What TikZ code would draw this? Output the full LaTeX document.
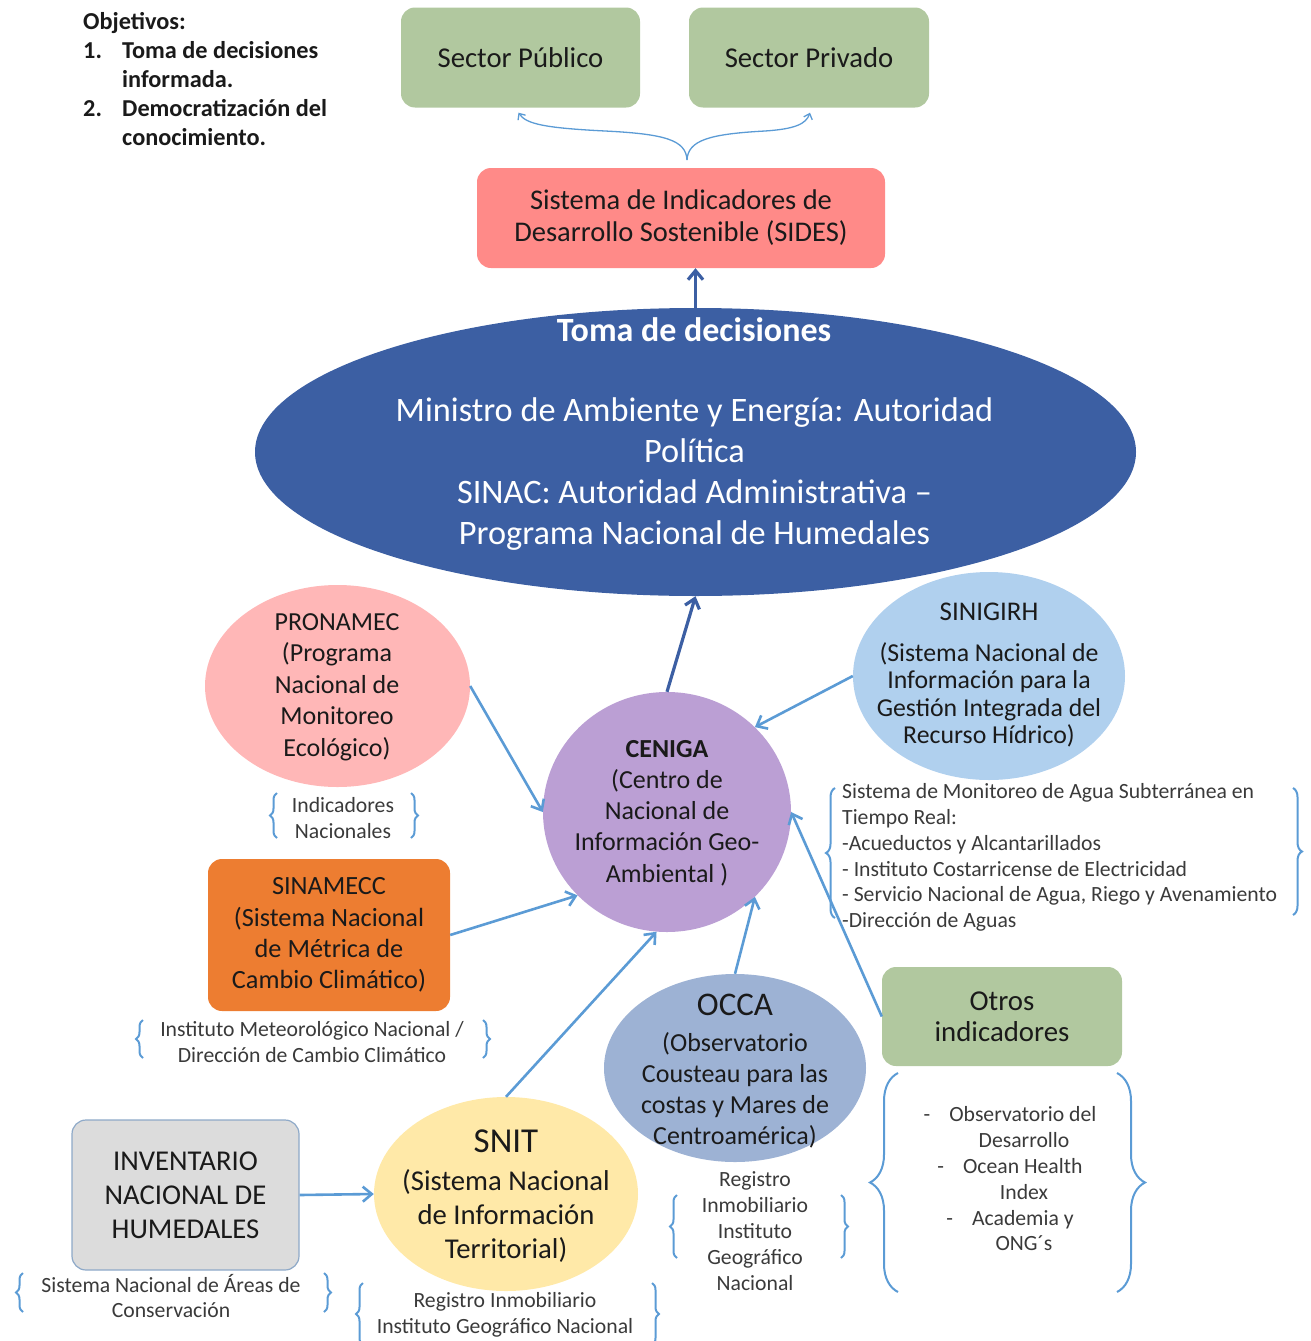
\documentclass[tikz,border=0pt]{standalone}
\usepackage{fontspec}
\setmainfont{Carlito}
\usetikzlibrary{arrows.meta,decorations.pathreplacing,shapes.geometric,calc}
\definecolor{cgreen}{HTML}{B1C89F}
\definecolor{csalmon}{HTML}{FF8A88}
\definecolor{cbig}{HTML}{3C5FA3}
\definecolor{cpink}{HTML}{FFB7B7}
\definecolor{clav}{HTML}{BB9FD4}
\definecolor{clblue}{HTML}{B0D0EE}
\definecolor{corange}{HTML}{ED7D31}
\definecolor{cocca}{HTML}{9DB2D4}
\definecolor{cyellow}{HTML}{FFE9A8}
\definecolor{cgrey}{HTML}{DCDCDC}
\definecolor{cgreyb}{HTML}{8EA9C8}
\definecolor{arrc}{HTML}{5B9BD5}
\definecolor{txtc}{HTML}{1A1A1A}
\definecolor{labc}{HTML}{3A3A3A}
\newcommand{\fs}[2]{\fontsize{#1}{#2}\selectfont}
\begin{document}
\begin{tikzpicture}[x=1pt,y=-1pt,
  rbox/.style={rectangle, rounded corners=14pt, inner sep=0pt, align=center, text=txtc},
  ell/.style={ellipse, inner sep=0pt},
  txt/.style={align=center, inner sep=0pt, text=txtc},
  lab/.style={align=center, inner sep=0pt, text=labc, font=\fs{21.7}{25.8}},
  arr/.style={draw=arrc, line width=2.6pt, -{Straight Barb[length=9pt,width=15pt]}},
  darr/.style={draw=cbig, line width=3.2pt, -{Straight Barb[length=9pt,width=15pt]}},
  brc/.style={draw=arrc, line width=2pt, decorate, decoration={brace, amplitude=#1}},
  brc/.default=7
]
\useasboundingbox (0,0) rectangle (1310,1341);

% Objectives
\node[anchor=north west, inner sep=0pt, align=left, font=\bfseries\fs{24.3}{29}, text=txtc] (obj) at (83,12)
 {Objetivos:\\\makebox[39pt][l]{1.}Toma de decisiones\\\hspace*{39pt}informada.\\\makebox[39pt][l]{2.}Democratización del\\\hspace*{39pt}conocimiento.};

% top boxes
\node[rbox, fill=cgreen, minimum width=239pt, minimum height=100pt, font=\fs{28.7}{31}] (pub) at (520.5,57.5) {Sector Público};
\node[rbox, fill=cgreen, minimum width=240pt, minimum height=100pt, font=\fs{28.7}{31}] (priv) at (809,57.5) {Sector Privado};
\node[rbox, fill=csalmon, minimum width=408pt, minimum height=100pt, font=\fs{28.5}{32}] (sides) at (681,218) {Sistema de Indicadores de\\Desarrollo Sostenible (SIDES)};

% brace connector to sectors
\coordinate (tip) at (687,160);
\coordinate (pubE) at ($(pub.south)+(-2,5)$);
\coordinate (privE) at ($(priv.south)+(1,5)$);
\draw[draw=arrc, line width=1.3pt, -{Straight Barb[length=5pt,width=9pt]}] (tip) .. controls (686,140) and (665,134) .. (605,131) .. controls (545,128) and (526,124) .. (pubE);
\draw[draw=arrc, line width=1.3pt, -{Straight Barb[length=5pt,width=9pt]}] (tip) .. controls (688,140) and (710,134) .. (765,131) .. controls (795,129) and (806,124) .. (privE);

% big ellipse
\node[ell, fill=cbig, minimum width=881pt, minimum height=288pt] (big) at (695.5,452) {};
\node[txt, text=white, font=\bfseries\fs{34}{35}] (tomaT) at (694,330) {Toma de decisiones};
\node[txt, text=white, font=\fs{34.3}{41}] (bigT) at (694.5,474) {Ministro de Ambiente y Energía: Autoridad\\Política\\SINAC: Autoridad Administrativa –\\Programa Nacional de Humedales};
\draw[darr] (big.north) -- (big.north |- sides.south);

% PRONAMEC
\node[ell, fill=cpink, minimum width=265pt, minimum height=202pt] (pron) at (337.5,686) {};
\node[txt, font=\fs{26}{31.5}] (pronT) at (337,687) {PRONAMEC\\(Programa\\Nacional de\\Monitoreo\\Ecológico)};
\draw[brc] (277,838) -- (277,793);
\draw[brc] (411,793) -- (411,838);
\node[lab] (indT) at (343,818) {Indicadores\\Nacionales};

% CENIGA
\node[ell, fill=clav, minimum width=248pt, minimum height=240pt] (cen) at (667,812) {};
\node[txt, font=\fs{26}{31.2}] (cenT) at (667,813) {\textbf{CENIGA}\\(Centro de\\Nacional de\\Información Geo-\\Ambiental )};

% SINIGIRH
\node[ell, fill=clblue, minimum width=272pt, minimum height=208pt] (sin) at (989,676) {};
\node[txt, font=\fs{25.8}{27.3}] (sinT) at (989,675) {{\fs{27}{27.3}SINIGIRH}\\[14pt](Sistema Nacional de\\Información para la\\Gestión Integrada del\\Recurso Hídrico)};

% water systems
\draw[brc=9] (835,918) -- (835,788);
\draw[brc=9] (1293,788) -- (1293,915);
\node[lab, align=left, anchor=west] (aguaT) at (842,857.5) {Sistema de Monitoreo de Agua Subterránea en\\Tiempo Real:\\-Acueductos y Alcantarillados\\- Instituto Costarricense de Electricidad\\- Servicio Nacional de Agua, Riego y Avenamiento\\-Dirección de Aguas};

% SINAMECC
\node[rbox, fill=corange, minimum width=242pt, minimum height=152pt, font=\fs{26.3}{31.2}] (sinam) at (329,935) {SINAMECC\\(Sistema Nacional\\de Métrica de\\Cambio Climático)};
\draw[brc] (143,1058) -- (143,1020);
\draw[brc] (483,1020) -- (483,1058);
\node[lab] (metT) at (312,1042) {Instituto Meteorológico Nacional /\\Dirección de Cambio Climático};

% OCCA
\node[ell, fill=cocca, minimum width=262pt, minimum height=188pt] (occa) at (735,1068) {};
\node[txt, font=\fs{26}{31}] (occaT) at (735,1071) {{\fs{33}{31}OCCA}\\[5pt](Observatorio\\Cousteau para las\\costas y Mares de\\Centroamérica)};
\draw[brc] (677,1258) -- (677,1195);
\draw[brc] (841,1195) -- (841,1258);
\node[lab] (occaR) at (755,1231) {Registro\\Inmobiliario\\Instituto\\Geográfico\\Nacional};

% Otros indicadores
\node[rbox, fill=cgreen, minimum width=240pt, minimum height=99pt, font=\fs{28.8}{31}] (otros) at (1002,1016.5) {Otros\\indicadores};
\draw[brc=28] (898,1292) -- (898,1073);
\draw[brc=28] (1117,1073) -- (1117,1292);
\node[lab] (otrosT) at (1010,1179) {-\hspace{19pt}Observatorio del\\\hspace*{28pt}Desarrollo\\-\hspace{19pt}Ocean Health\\\hspace*{28pt}Index\\-\hspace{19pt}Academia y\\\hspace*{28pt}ONG´s};

% INVENTARIO
\node[rbox, fill=cgrey, draw=cgreyb, line width=1.2pt, minimum width=227pt, minimum height=150pt, font=\fs{28.7}{34}] (inv) at (185.5,1195) {INVENTARIO\\NACIONAL DE\\HUMEDALES};
\draw[brc] (23,1312) -- (23,1273);
\draw[brc] (324,1273) -- (324,1312);
\node[lab] (invT) at (171,1296) {Sistema Nacional de Áreas de\\Conservación};

% SNIT
\node[ell, fill=cyellow, minimum width=264pt, minimum height=194pt] (snit) at (506,1194) {};
\node[txt, font=\fs{28.7}{34}] (snitT) at (506,1196) {{\fs{35}{34}SNIT}\\[4pt](Sistema Nacional\\de Información\\Territorial)};
\draw[brc] (363,1345) -- (363,1283);
\draw[brc] (652,1283) -- (652,1345);
\node[lab] (snitR) at (505,1315) {Registro Inmobiliario\\Instituto Geográfico Nacional};

% connectors
\draw[darr] (cen.north) -- (big.south);
\draw[arr] (pron.east) -- (cen.west);
\draw[arr] (sin.west) -- (cen.44);
\draw[arr] (sinam.east) -- (cen.223);
\draw[arr] (snit.north) -- (cen.265);
\draw[arr] (occa.north) -- (cen.316);
\draw[arr] (otros.west) -- (cen.east);
\draw[arr] (inv.east) -- (snit.west);
\end{tikzpicture}
\end{document}
